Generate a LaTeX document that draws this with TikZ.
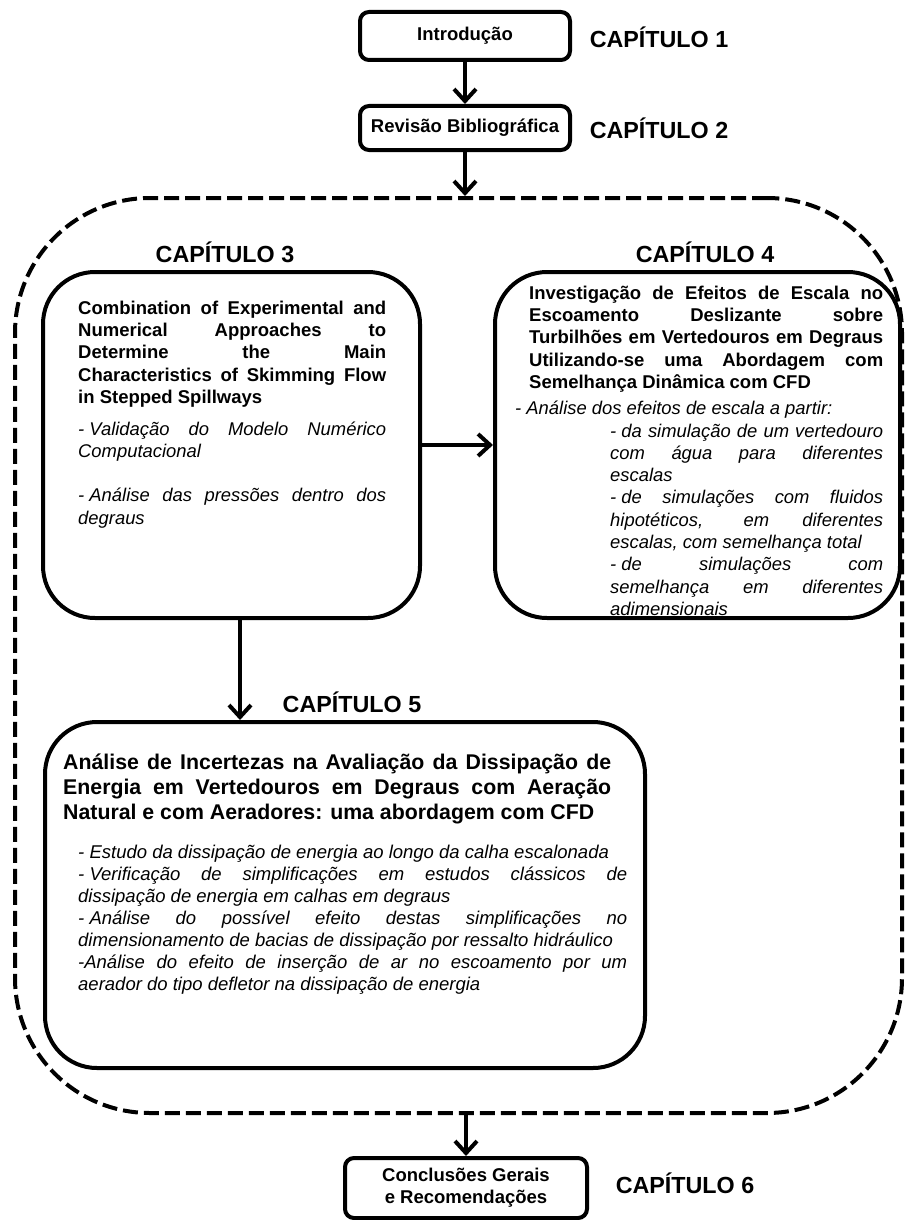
\documentclass[tikz,border=0pt]{standalone}
\usepackage{fontspec}
\setmainfont{Liberation Sans}
\usetikzlibrary{arrows.meta}
\hyphenpenalty=10000 \exhyphenpenalty=10000
\tolerance=10000 \hbadness=10000 \parindent=0pt
\newcommand{\traco}{-\kern0.28em}

\begin{document}
\begin{tikzpicture}[x=1pt,y=-1pt,
    caixa/.style={draw,line width=4pt,rounded corners=9pt,font=\bfseries\fontsize{18.5}{22}\selectfont},
    bloco/.style={draw,line width=4pt,rounded corners=52pt,minimum height=346pt},
    capitulo/.style={font=\bfseries\fontsize{23.3}{28}\selectfont},
    texto/.style={anchor=base west,inner sep=0pt,align=justify},
    negrito/.style={font=\bfseries\fontsize{18.5}{22.4}\selectfont},
    italico/.style={font=\itshape\fontsize{18.4}{22.3}\selectfont},
    flecha/.style={line width=4pt,-{Straight Barb[length=12pt,width=22pt]}}]
  \useasboundingbox (0,0) rectangle (906,1220);

  % capitulos 1 e 2
  \node[caixa,minimum width=210pt,minimum height=48pt] (intro) at (465,36) {Introdução};
  \node[caixa,minimum width=210pt,minimum height=44pt] (revisao) at (465,128) {Revisão Bibliográfica};
  \node[capitulo] (c1) at (659,37) {CAPÍTULO 1};
  \node[capitulo] (c2) at (659,128) {CAPÍTULO 2};

  % grupo tracejado
  \node[draw,line width=4pt,dash pattern=on 15pt off 6pt,rounded corners=135pt,
        minimum width=887pt,minimum height=915pt] (grupo) at (458.5,655.5) {};

  % capitulos 3, 4 e 5
  \node[capitulo] (c3) at (225,252) {CAPÍTULO 3};
  \node[capitulo] (c4) at (705,252) {CAPÍTULO 4};
  \node[bloco,minimum width=377pt] (cap3) at (231.5,445) {};
  \node[bloco,minimum width=405pt] (cap4) at (697.5,445) {};
  \node[capitulo] (c5) at (352,702) {CAPÍTULO 5};
  \node[bloco,minimum width=600pt] (cap5) at (345,895) {};

  \node[texto,negrito,text width=308pt] (t3) at (78,314) {Combination of Experimental and\linebreak
    Numerical Approaches to\linebreak Determine the Main\linebreak
    Characteristics of Skimming Flow\linebreak in Stepped Spillways};
  \node[texto,italico,text width=308pt] (i3) at (78,435) {\traco Validação do Modelo Numérico\linebreak
    Computacional\par\vspace{22.3pt}\traco Análise das pressões dentro dos\linebreak degraus};

  \node[texto,negrito,text width=354pt] (t4) at (529,299) {Investigação de Efeitos de Escala no\linebreak
    Escoamento Deslizante sobre\linebreak Turbilhões em Vertedouros em Degraus\linebreak
    Utilizando-se uma Abordagem com\linebreak Semelhança Dinâmica com CFD};
  \node[anchor=base west,inner sep=0pt,italico] (i4) at (515,414) {\traco Análise dos efeitos de escala a partir:};
  \node[texto,italico,text width=273pt] (s4) at (610,437) {\traco da simulação de um vertedouro\linebreak
    com água para diferentes\linebreak escalas\par
    \traco de simulações com fluidos\linebreak hipotéticos, em diferentes\linebreak
    escalas, com semelhança total\par
    \traco de simulações com\linebreak semelhança em diferentes\linebreak adimensionais};

  \node[texto,font=\bfseries\fontsize{21.3}{25}\selectfont,text width=548pt] (t5) at (63,769)
    {Análise de Incertezas na Avaliação da Dissipação de\linebreak
    Energia em Vertedouros em Degraus com Aeração\linebreak
    Natural e com Aeradores: uma abordagem com CFD};
  \node[texto,font=\itshape\fontsize{18.5}{22}\selectfont,text width=549pt] (i5) at (78,858)
    {\traco Estudo da dissipação de energia ao longo da calha escalonada\par
    \traco Verificação de simplificações em estudos clássicos de\linebreak
    dissipação de energia em calhas em degraus\par
    \traco Análise do possível efeito destas simplificações no\linebreak
    dimensionamento de bacias de dissipação por ressalto hidráulico\par
    -Análise do efeito de inserção de ar no escoamento por um\linebreak
    aerador do tipo defletor na dissipação de energia};

  % capitulo 6
  \node[caixa,minimum width=242pt,minimum height=60pt,align=center] (conclusoes) at (466,1188)
    {Conclusões Gerais\\e Recomendações};
  \node[capitulo] (c6) at (685,1183) {CAPÍTULO 6};

  % setas
  \draw[flecha] (intro) -- (revisao);
  \draw[flecha] (revisao) -- (revisao.south |- grupo.north);
  \draw[flecha] (cap3) -- (cap4);
  \draw[flecha] ([xshift=8.5pt]cap3.south) -- ([xshift=8.5pt]cap3.south |- cap5.north);
  \draw[flecha] (conclusoes.north |- grupo.south) -- (conclusoes);
\end{tikzpicture}
\end{document}
